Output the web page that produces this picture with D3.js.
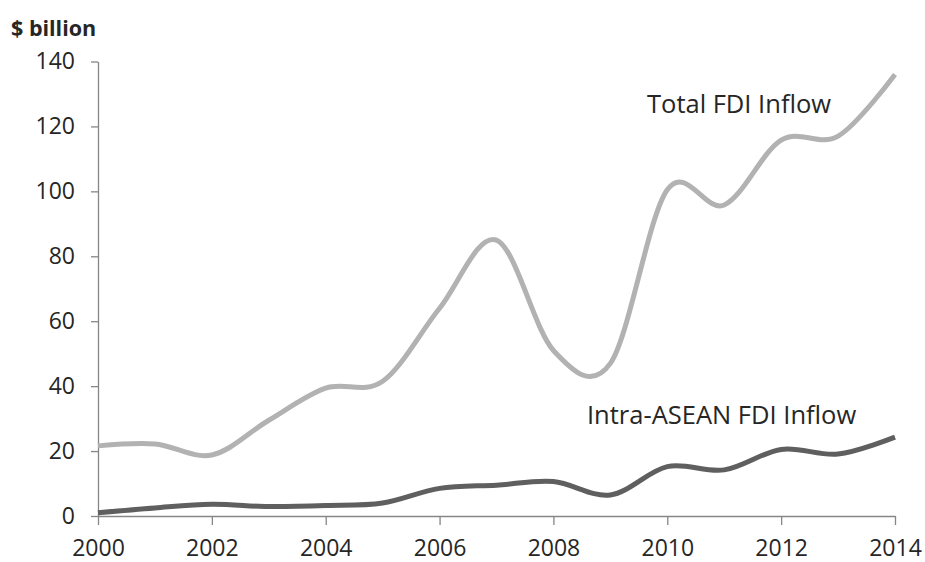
<!DOCTYPE html>
<html>
<head>
<meta charset="utf-8">
<script src="https://cdn.jsdelivr.net/npm/d3@7"></script>
<style>
  body { margin: 0; background: #fff; }
  text { font-family: "Open Sans", sans-serif; fill: #262626; }
</style>
</head>
<body>
<div id="chart"></div>
<script>
// Data ($ billion)
var years = [2000, 2001, 2002, 2003, 2004, 2005, 2006, 2007, 2008, 2009, 2010, 2011, 2012, 2013, 2014];
var totalFdi = [21.6, 22.2, 18.8, 29.5, 39.4, 41.5, 64, 85, 51, 47, 100.5, 95.8, 115.8, 117, 136];
var intraAsean = [1.0, 2.5, 3.6, 2.9, 3.2, 4.0, 8.5, 9.5, 10.6, 6.5, 15.2, 14.2, 20.5, 19.1, 24.3];
var yTicks = [0, 20, 40, 60, 80, 100, 120, 140];
var xTicks = [2000, 2002, 2004, 2006, 2008, 2010, 2012, 2014];

var svgWidth = 925;
var svgHeight = 562;

var margin = { top: 61.5, right: 30, bottom: 46, left: 98 };
var width = 895 - margin.left;
var height = 516 - margin.top;

var svg = d3.select("#chart")
  .append("svg")
  .attr("width", svgWidth)
  .attr("height", svgHeight);

var chartGroup = svg.append("g")
  .attr("transform", `translate(${margin.left}, ${margin.top})`);

// scales
var x = d3.scaleLinear().domain([2000, 2014]).range([0, width]);
var y = d3.scaleLinear().domain([0, 140]).range([height, 0]);

// axes
var bottomAxis = d3.axisBottom(x).tickValues(xTicks).tickFormat(d3.format("d"))
  .tickSize(9).tickSizeOuter(0).tickPadding(15);
var leftAxis = d3.axisLeft(y).tickValues(yTicks).tickSize(7).tickSizeOuter(0).tickPadding(16);

var xg = chartGroup.append("g")
  .attr("transform", `translate(0, ${height})`)
  .call(bottomAxis);

var yg = chartGroup.append("g").call(leftAxis);

[xg, yg].forEach(function(g) {
  g.selectAll("path, line").attr("stroke", "#868686").attr("stroke-width", 1.3);
  g.selectAll("text").style("font-size", "23px").style("font-family", "'Open Sans', sans-serif").attr("fill", "#262626");
});
xg.selectAll("text").attr("dy", "0.71em");

// lines
var line = d3.line()
  .x(function(d, i) { return x(years[i]); })
  .y(function(d) { return y(d); })
  .curve(d3.curveCardinal.tension(0));

chartGroup.append("path")
  .datum(totalFdi)
  .attr("fill", "none")
  .attr("stroke", "#b2b2b2")
  .attr("stroke-width", 5)
  .attr("d", line);

chartGroup.append("path")
  .datum(intraAsean)
  .attr("fill", "none")
  .attr("stroke", "#5f5f5f")
  .attr("stroke-width", 5)
  .attr("d", line);

// labels
svg.append("text")
  .attr("x", 11)
  .attr("y", 36)
  .style("font-size", "21.5px")
  .style("font-weight", "bold")
  .text("$ billion");

svg.append("text")
  .attr("x", 647)
  .attr("y", 113)
  .style("font-size", "25.5px")
  .text("Total FDI Inflow");

svg.append("text")
  .attr("x", 587)
  .attr("y", 424)
  .style("font-size", "25.5px")
  .text("Intra-ASEAN FDI Inflow");
</script>
</body>
</html>
